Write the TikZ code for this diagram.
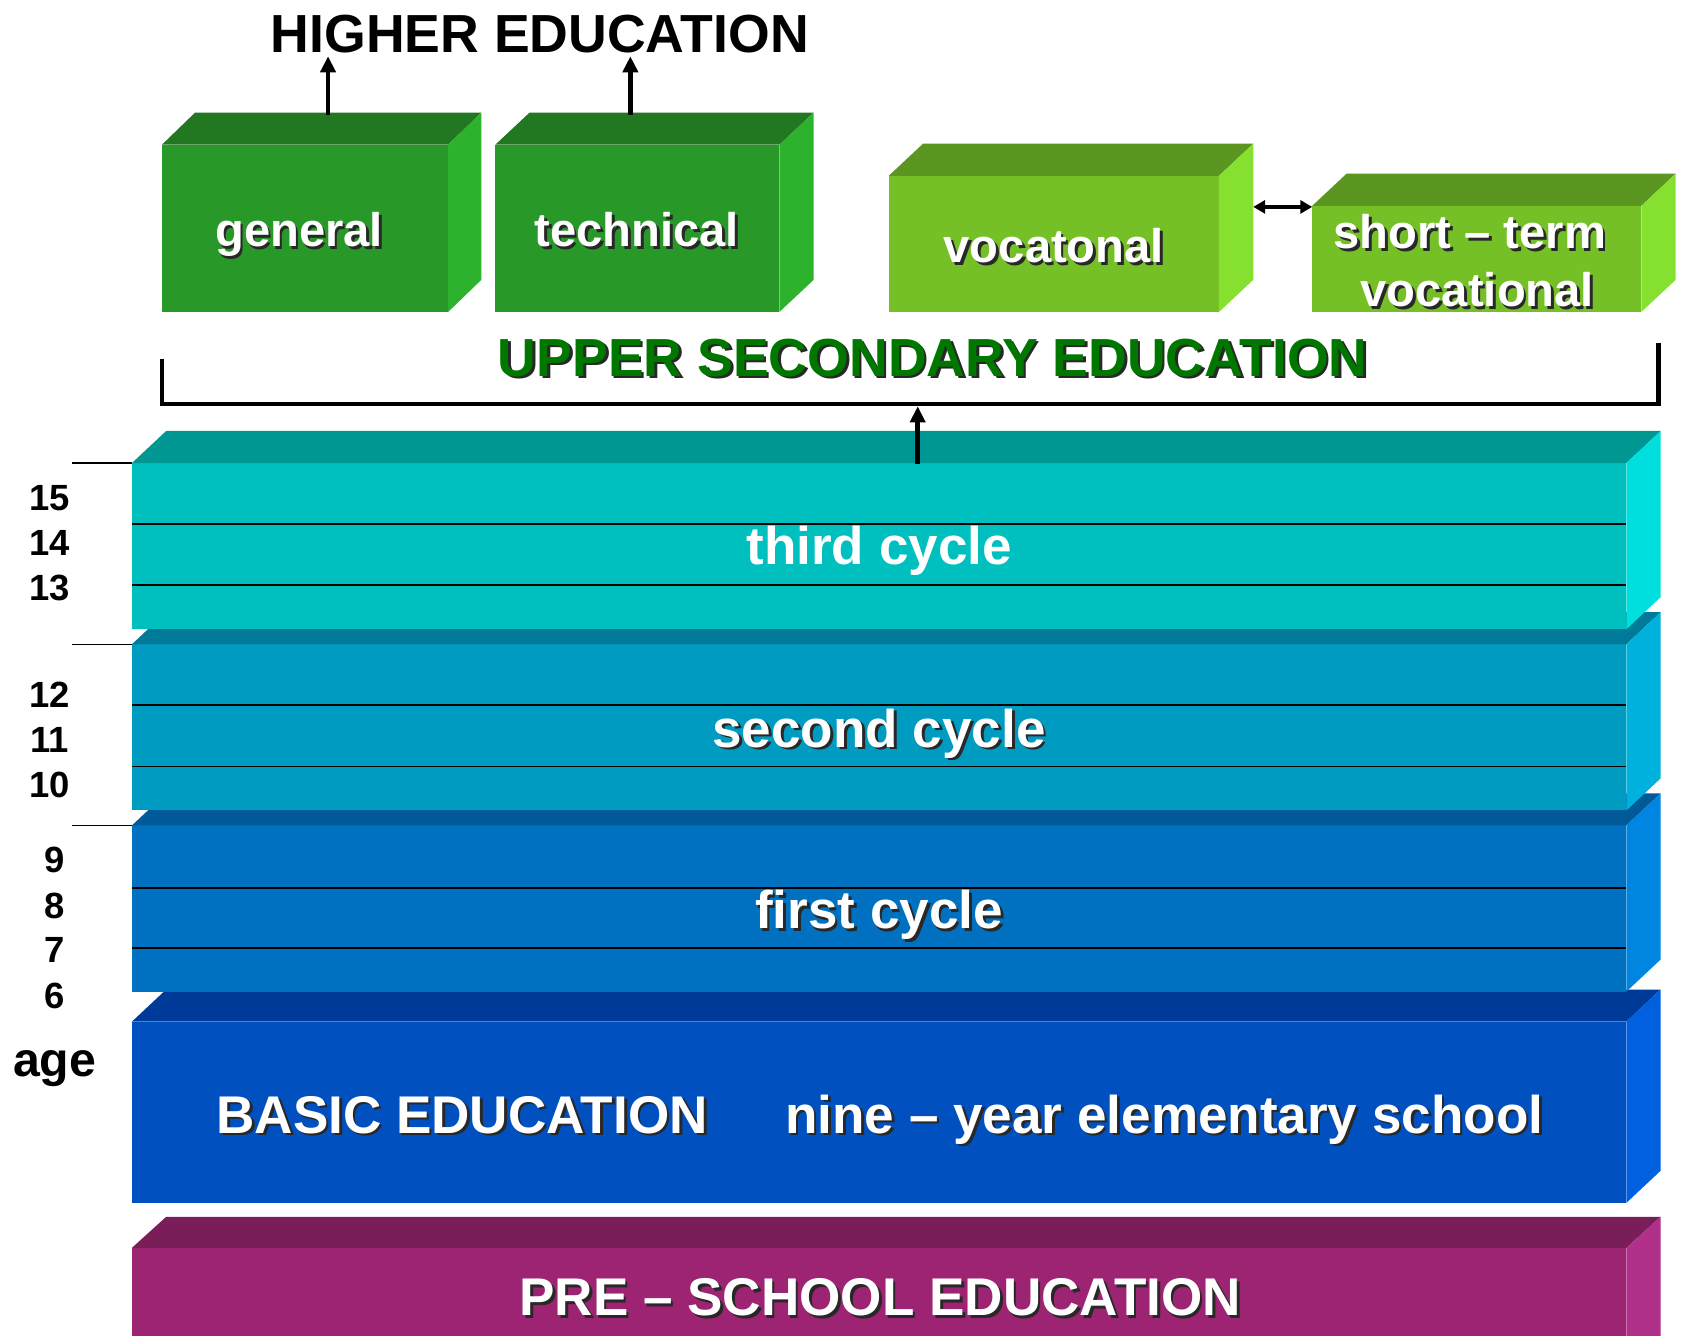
\documentclass[tikz,border=0pt]{standalone}
\usepackage{fontspec}
\setmainfont{Liberation Sans}
\usetikzlibrary{arrows.meta}
\definecolor{gfront}{RGB}{40,152,40}
\definecolor{gtop}{RGB}{33,120,33}
\definecolor{gside}{RGB}{44,178,44}
\definecolor{lfront}{RGB}{118,192,39}
\definecolor{ltop}{RGB}{90,150,32}
\definecolor{lside}{RGB}{134,224,48}
\definecolor{tfront}{RGB}{0,191,191}
\definecolor{ttop}{RGB}{0,150,145}
\definecolor{tside}{RGB}{0,222,222}
\definecolor{sfront}{RGB}{0,155,192}
\definecolor{stop}{RGB}{0,122,153}
\definecolor{sside}{RGB}{0,176,221}
\definecolor{ffront}{RGB}{0,112,192}
\definecolor{ftop}{RGB}{0,90,153}
\definecolor{fside}{RGB}{0,133,224}
\definecolor{bfront}{RGB}{0,80,192}
\definecolor{btop}{RGB}{0,58,153}
\definecolor{bside}{RGB}{0,96,224}
\definecolor{pfront}{RGB}{156,36,114}
\definecolor{ptop}{RGB}{122,30,90}
\definecolor{pside}{RGB}{176,48,138}
\definecolor{upgreen}{RGB}{0,120,0}
\definecolor{shadowc}{RGB}{40,40,40}
\newcommand\shtext[1]{\leavevmode\rlap{\kern2.5pt\raisebox{-2.5pt}{\color{shadowc}#1}}#1}
\newcommand\extrude[5]{%
  \fill[#4] (#1.north west) -- ++(#2,-#3) -- ([shift={(#2,-#3)}]#1.north east) -- (#1.north east) -- cycle;
  \fill[#5] (#1.north east) -- ++(#2,-#3) -- ([shift={(#2,-#3)}]#1.south east) -- (#1.south east) -- cycle;
}
\tikzset{
  face/.style={rectangle, inner sep=0pt, outer sep=0pt},
  lbl/.style={inner sep=0pt, outer sep=0pt, anchor=base, text=white, font=\fontsize{49.5}{55}\selectfont\bfseries},
  boxlbl/.style={lbl, font=\fontsize{44}{52}\selectfont\bfseries},
  agelbl/.style={inner sep=0pt, outer sep=0pt, anchor=base, font=\fontsize{34}{40}\selectfont\bfseries},
  uparrow/.style={line width=4.5pt, -{Triangle[length=15pt,width=14pt]}},
  dblarrow/.style={line width=3pt, {Triangle[length=11pt,width=12pt]}-{Triangle[length=11pt,width=12pt]}},
  bracketline/.style={line width=4pt},
  yearline/.style={line width=1.8pt},
  tickline/.style={line width=1.5pt}
}
\begin{document}
\begin{tikzpicture}[x=1pt,y=-1pt]
\clip (0,0) rectangle (1568,1246);
\fill[white] (0,0) rectangle (1568,1246);

% ---- slabs (bottom first) ----
\node[face, fill=pfront, minimum width=1394pt, minimum height=116pt] (pre) at (820,1222) {};
\extrude{pre}{32}{29}{ptop}{pside}
\node[face, fill=bfront, minimum width=1394pt, minimum height=169pt] (basic) at (820,1037.5) {};
\extrude{basic}{32}{30}{btop}{bside}
\node[face, fill=ffront, minimum width=1394pt, minimum height=155pt] (first) at (820,847.5) {};
\extrude{first}{32}{30}{ftop}{fside}
\node[face, fill=sfront, minimum width=1394pt, minimum height=155pt] (second) at (820,678.5) {};
\extrude{second}{32}{30}{stop}{sside}
\node[face, fill=tfront, minimum width=1394pt, minimum height=155pt] (third) at (820,509.5) {};
\extrude{third}{32}{30}{ttop}{tside}

% year lines
\draw[yearline] ([yshift=-57pt]third.north west) -- ([yshift=-57pt]third.north east);
\draw[yearline] ([yshift=-114pt]third.north west) -- ([yshift=-114pt]third.north east);
\draw[yearline] ([yshift=-57pt]second.north west) -- ([yshift=-57pt]second.north east);
\draw[yearline] ([yshift=-114pt]second.north west) -- ([yshift=-114pt]second.north east);
\draw[yearline] ([yshift=-58pt]first.north west) -- ([yshift=-58pt]first.north east);
\draw[yearline] ([yshift=-114pt]first.north west) -- ([yshift=-114pt]first.north east);

% slab labels
\node[lbl] (tl) at (820,527) {third cycle};
\node[lbl] (sl) at (820,697) {\shtext{second cycle}};
\node[lbl] (fl) at (820,866) {\shtext{first cycle}};
\node[lbl] (bl) at (431,1057) {\shtext{BASIC EDUCATION}};
\node[lbl] (nl) at (1086,1057) {\shtext{nine -- year elementary school}};
\node[lbl] (pl) at (821,1227) {\shtext{PRE -- SCHOOL EDUCATION}};

% age ticks
\coordinate (k3) at (67,432);
\coordinate (k2) at (67,601);
\coordinate (k1) at (67,770);
\draw[tickline] (k3) -- (k3 -| third.north west);
\draw[tickline] (k2) -- (k2 -| second.north west);
\draw[tickline] (k1) -- (k1 -| first.north west);

% ages
\node[agelbl] (a15) at (46.5,476) {15};
\node[agelbl] (a14) at (46.5,518) {14};
\node[agelbl] (a13) at (46.5,560) {13};
\node[agelbl] (a12) at (46.5,660) {12};
\node[agelbl] (a11) at (46.5,702) {11};
\node[agelbl] (a10) at (46.5,744) {10};
\node[agelbl] (a9) at (51,814) {9};
\node[agelbl] (a8) at (51,857) {8};
\node[agelbl] (a7) at (51,898) {7};
\node[agelbl] (a6) at (51,941) {6};
\node[agelbl, font=\fontsize{45}{50}\selectfont\bfseries] (age) at (51,1004) {age};

% ---- upper secondary boxes ----
\node[face, fill=gfront, minimum width=267pt, minimum height=156pt] (gen) at (284.5,213) {};
\extrude{gen}{31}{30}{gtop}{gside}
\node[face, fill=gfront, minimum width=265pt, minimum height=156pt] (tech) at (594.5,213) {};
\extrude{tech}{32}{30}{gtop}{gside}
\node[face, fill=lfront, minimum width=308pt, minimum height=127pt] (voc) at (983,227.5) {};
\extrude{voc}{32}{30}{ltop}{lside}
\node[face, fill=lfront, minimum width=307pt, minimum height=99pt] (short) at (1377.5,241.5) {};
\extrude{short}{32}{30}{ltop}{lside}

\node[boxlbl] (genl) at (279,230) {\shtext{general}};
\node[boxlbl] (techl) at (594,230) {\shtext{technical}};
\node[boxlbl] (vocl) at (983,245) {\shtext{vocatonal}};
\node[boxlbl] (shl1) at (1371,232) {\shtext{short -- term}};
\node[boxlbl] (shl2) at (1378,286) {\shtext{vocational}};

% titles
\node[inner sep=0pt, outer sep=0pt, anchor=base, font=\fontsize{50}{56}\selectfont\bfseries] (he) at (503.5,49) {HIGHER EDUCATION};
\node[inner sep=0pt, outer sep=0pt, anchor=base, text=upgreen, font=\fontsize{50}{56}\selectfont\bfseries] (use) at (870,351) {\shtext{UPPER SECONDARY EDUCATION}};

% arrows to higher education
\coordinate (gentop) at (306,107);
\coordinate (techtop) at (588,107);
\draw[uparrow] (gentop) -- ([yshift=-3pt]gentop |- he.south);
\draw[uparrow] (techtop) -- ([yshift=-3pt]techtop |- he.south);

% double arrow
\coordinate (vocR) at (1169,193);
\draw[dblarrow] (vocR) -- (vocR -| short.west);

% bracket
\coordinate (b1) at (151,335);
\coordinate (b2) at (151,377);
\coordinate (b3) at (1547,377);
\coordinate (b4) at (1547,320);
\draw[bracketline] (b1) -- (b2) -- (b3) -- (b4);

% arrow from third cycle
\coordinate (t3) at (856,433);
\draw[uparrow] (t3) -- ([yshift=-2pt]t3 |- b2);
\end{tikzpicture}
\end{document}
